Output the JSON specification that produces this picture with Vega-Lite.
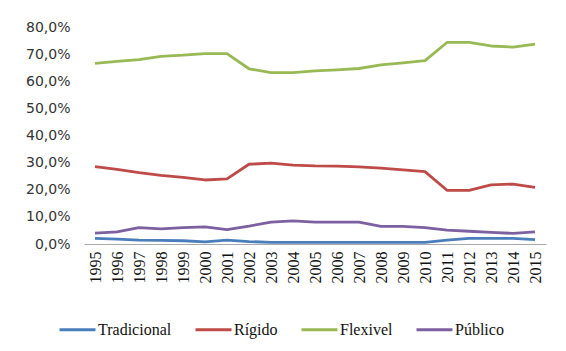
{
  "$schema": "https://vega.github.io/schema/vega-lite/v6.json",
  "width": 462,
  "height": 217,
  "autosize": {"type": "none"},
  "padding": {"left": 84, "top": 27, "right": 20, "bottom": 107},
  "background": "white",
  "config": {"view": {"stroke": null}},
  "datasets": {
    "shares": [
      {"ano": "1995", "tipo": "Tradicional", "valor": 2.1},
      {"ano": "1996", "tipo": "Tradicional", "valor": 1.8},
      {"ano": "1997", "tipo": "Tradicional", "valor": 1.4},
      {"ano": "1998", "tipo": "Tradicional", "valor": 1.3},
      {"ano": "1999", "tipo": "Tradicional", "valor": 1.2},
      {"ano": "2000", "tipo": "Tradicional", "valor": 0.8},
      {"ano": "2001", "tipo": "Tradicional", "valor": 1.4},
      {"ano": "2002", "tipo": "Tradicional", "valor": 0.9},
      {"ano": "2003", "tipo": "Tradicional", "valor": 0.6},
      {"ano": "2004", "tipo": "Tradicional", "valor": 0.6},
      {"ano": "2005", "tipo": "Tradicional", "valor": 0.6},
      {"ano": "2006", "tipo": "Tradicional", "valor": 0.6},
      {"ano": "2007", "tipo": "Tradicional", "valor": 0.6},
      {"ano": "2008", "tipo": "Tradicional", "valor": 0.6},
      {"ano": "2009", "tipo": "Tradicional", "valor": 0.6},
      {"ano": "2010", "tipo": "Tradicional", "valor": 0.6},
      {"ano": "2011", "tipo": "Tradicional", "valor": 1.4},
      {"ano": "2012", "tipo": "Tradicional", "valor": 2.1},
      {"ano": "2013", "tipo": "Tradicional", "valor": 2.1},
      {"ano": "2014", "tipo": "Tradicional", "valor": 2.1},
      {"ano": "2015", "tipo": "Tradicional", "valor": 1.6},

      {"ano": "1995", "tipo": "Rígido", "valor": 28.5},
      {"ano": "1996", "tipo": "Rígido", "valor": 27.5},
      {"ano": "1997", "tipo": "Rígido", "valor": 26.3},
      {"ano": "1998", "tipo": "Rígido", "valor": 25.3},
      {"ano": "1999", "tipo": "Rígido", "valor": 24.6},
      {"ano": "2000", "tipo": "Rígido", "valor": 23.6},
      {"ano": "2001", "tipo": "Rígido", "valor": 24.0},
      {"ano": "2002", "tipo": "Rígido", "valor": 29.4},
      {"ano": "2003", "tipo": "Rígido", "valor": 29.8},
      {"ano": "2004", "tipo": "Rígido", "valor": 29.1},
      {"ano": "2005", "tipo": "Rígido", "valor": 28.8},
      {"ano": "2006", "tipo": "Rígido", "valor": 28.7},
      {"ano": "2007", "tipo": "Rígido", "valor": 28.4},
      {"ano": "2008", "tipo": "Rígido", "valor": 28.0},
      {"ano": "2009", "tipo": "Rígido", "valor": 27.3},
      {"ano": "2010", "tipo": "Rígido", "valor": 26.7},
      {"ano": "2011", "tipo": "Rígido", "valor": 19.8},
      {"ano": "2012", "tipo": "Rígido", "valor": 19.8},
      {"ano": "2013", "tipo": "Rígido", "valor": 21.8},
      {"ano": "2014", "tipo": "Rígido", "valor": 22.1},
      {"ano": "2015", "tipo": "Rígido", "valor": 20.9},

      {"ano": "1995", "tipo": "Flexivel", "valor": 66.6},
      {"ano": "1996", "tipo": "Flexivel", "valor": 67.3},
      {"ano": "1997", "tipo": "Flexivel", "valor": 68.0},
      {"ano": "1998", "tipo": "Flexivel", "valor": 69.2},
      {"ano": "1999", "tipo": "Flexivel", "valor": 69.6},
      {"ano": "2000", "tipo": "Flexivel", "valor": 70.2},
      {"ano": "2001", "tipo": "Flexivel", "valor": 70.2},
      {"ano": "2002", "tipo": "Flexivel", "valor": 64.6},
      {"ano": "2003", "tipo": "Flexivel", "valor": 63.2},
      {"ano": "2004", "tipo": "Flexivel", "valor": 63.2},
      {"ano": "2005", "tipo": "Flexivel", "valor": 63.8},
      {"ano": "2006", "tipo": "Flexivel", "valor": 64.2},
      {"ano": "2007", "tipo": "Flexivel", "valor": 64.7},
      {"ano": "2008", "tipo": "Flexivel", "valor": 66.0},
      {"ano": "2009", "tipo": "Flexivel", "valor": 66.8},
      {"ano": "2010", "tipo": "Flexivel", "valor": 67.6},
      {"ano": "2011", "tipo": "Flexivel", "valor": 74.3},
      {"ano": "2012", "tipo": "Flexivel", "valor": 74.3},
      {"ano": "2013", "tipo": "Flexivel", "valor": 73.0},
      {"ano": "2014", "tipo": "Flexivel", "valor": 72.6},
      {"ano": "2015", "tipo": "Flexivel", "valor": 73.7},

      {"ano": "1995", "tipo": "Público", "valor": 4.0},
      {"ano": "1996", "tipo": "Público", "valor": 4.5},
      {"ano": "1997", "tipo": "Público", "valor": 6.0},
      {"ano": "1998", "tipo": "Público", "valor": 5.6},
      {"ano": "1999", "tipo": "Público", "valor": 6.0},
      {"ano": "2000", "tipo": "Público", "valor": 6.3},
      {"ano": "2001", "tipo": "Público", "valor": 5.3},
      {"ano": "2002", "tipo": "Público", "valor": 6.6},
      {"ano": "2003", "tipo": "Público", "valor": 8.1},
      {"ano": "2004", "tipo": "Público", "valor": 8.5},
      {"ano": "2005", "tipo": "Público", "valor": 8.1},
      {"ano": "2006", "tipo": "Público", "valor": 8.1},
      {"ano": "2007", "tipo": "Público", "valor": 8.1},
      {"ano": "2008", "tipo": "Público", "valor": 6.5},
      {"ano": "2009", "tipo": "Público", "valor": 6.5},
      {"ano": "2010", "tipo": "Público", "valor": 6.0},
      {"ano": "2011", "tipo": "Público", "valor": 5.1},
      {"ano": "2012", "tipo": "Público", "valor": 4.7},
      {"ano": "2013", "tipo": "Público", "valor": 4.3},
      {"ano": "2014", "tipo": "Público", "valor": 3.9},
      {"ano": "2015", "tipo": "Público", "valor": 4.5}
    ]
  },
  "data": {"name": "shares"},
  "mark": {"type": "line", "strokeWidth": 2.8, "strokeJoin": "round", "strokeCap": "butt"},
  "encoding": {
    "x": {
      "field": "ano",
      "type": "ordinal",
      "scale": {"type": "point", "padding": 0.5},
      "axis": {
        "title": null,
        "labelAngle": -90,
        "labelFont": "Liberation Serif",
        "labelFontSize": 16,
        "labelColor": "#111111",
        "labelPadding": 7,
        "ticks": false,
        "domainColor": "#a9a9a9",
        "domainWidth": 1.2,
        "grid": false
      }
    },
    "y": {
      "field": "valor",
      "type": "quantitative",
      "scale": {"domain": [0, 80], "nice": false},
      "axis": {
        "title": null,
        "values": [0, 10, 20, 30, 40, 50, 60, 70, 80],
        "labelExpr": "replace(format(datum.value, '.1f'), '.', ',') + '%'",
        "labelFont": "DejaVu Sans",
        "labelFontSize": 14,
        "labelColor": "#333333",
        "labelPadding": 14,
        "domain": false,
        "ticks": false,
        "grid": false
      }
    },
    "color": {
      "field": "tipo",
      "type": "nominal",
      "sort": ["Tradicional", "Rígido", "Flexivel", "Público"],
      "scale": {
        "domain": ["Tradicional", "Rígido", "Flexivel", "Público"],
        "range": ["#4a7ebb", "#be4b48", "#98b954", "#7d60a0"]
      },
      "legend": {
        "title": null,
        "orient": "none",
        "direction": "horizontal",
        "legendX": -26,
        "legendY": 283,
        "symbolType": "stroke",
        "symbolSize": 1296,
        "symbolStrokeWidth": 2.8,
        "labelFont": "Liberation Serif",
        "labelFontSize": 16,
        "labelColor": "#111111",
        "labelOffset": 1,
        "columnPadding": 17
      }
    }
  }
}
